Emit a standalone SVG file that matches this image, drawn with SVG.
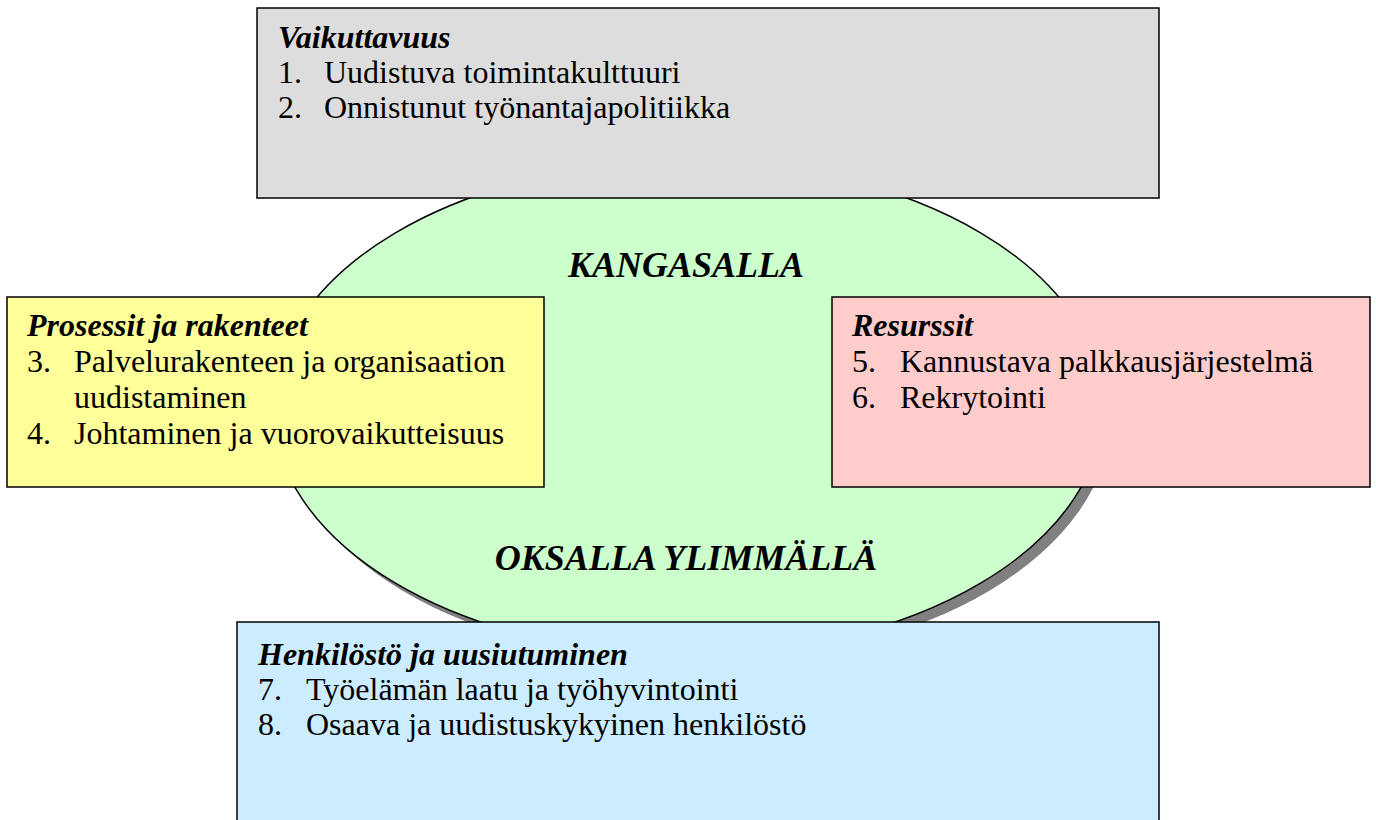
<svg xmlns="http://www.w3.org/2000/svg" width="1376" height="820" viewBox="0 0 1376 820">
<style>
.t{font-family:"Liberation Serif","Times New Roman",serif;font-size:32px;fill:#000}
.h{font-weight:bold;font-style:italic}
.big{font-family:"Liberation Serif","Times New Roman",serif;font-size:36px;font-weight:bold;font-style:italic;fill:#000}
.box{stroke:#000;stroke-width:1.5}
</style>
<rect width="1376" height="820" fill="#fff"/>
<g id="center">
<ellipse cx="696" cy="416" rx="415" ry="247" fill="#808080"/>
<ellipse cx="688" cy="408" rx="415" ry="247" fill="#CCFFCC" stroke="#000" stroke-width="1.5"/>
<text class="big" x="686" y="277" text-anchor="middle">KANGASALLA</text>
<text class="big" x="686" y="570" text-anchor="middle">OKSALLA YLIMMÄLLÄ</text>
</g>
<g id="vaikuttavuus">
<rect class="box" x="257" y="8" width="902" height="190" fill="#DDDDDD"/>
<text class="t h" x="278" y="48">Vaikuttavuus</text>
<text class="t" y="83"><tspan x="278">1.</tspan><tspan x="324">Uudistuva toimintakulttuuri</tspan></text>
<text class="t" y="118"><tspan x="278">2.</tspan><tspan x="324">Onnistunut työnantajapolitiikka</tspan></text>
</g>
<g id="prosessit">
<rect class="box" x="7" y="297" width="537" height="190" fill="#FFFF99"/>
<text class="t h" x="27" y="336">Prosessit ja rakenteet</text>
<text class="t" y="372"><tspan x="27">3.</tspan><tspan x="74">Palvelurakenteen ja organisaation</tspan></text>
<text class="t" x="74" y="408">uudistaminen</text>
<text class="t" y="444"><tspan x="27">4.</tspan><tspan x="74">Johtaminen ja vuorovaikutteisuus</tspan></text>
</g>
<g id="resurssit">
<rect class="box" x="832" y="297" width="538" height="190" fill="#FFCCCC"/>
<text class="t h" x="852" y="336">Resurssit</text>
<text class="t" y="372"><tspan x="852">5.</tspan><tspan x="900">Kannustava palkkausjärjestelmä</tspan></text>
<text class="t" y="408"><tspan x="852">6.</tspan><tspan x="900">Rekrytointi</tspan></text>
</g>
<g id="henkilosto">
<rect class="box" x="237" y="622" width="922" height="210" fill="#CCECFF"/>
<text class="t h" x="258" y="665">Henkilöstö ja uusiutuminen</text>
<text class="t" y="700"><tspan x="258">7.</tspan><tspan x="306">Työelämän laatu ja työhyvintointi</tspan></text>
<text class="t" y="735"><tspan x="258">8.</tspan><tspan x="306">Osaava ja uudistuskykyinen henkilöstö</tspan></text>
</g>
<g id="connectors"/>
</svg>
